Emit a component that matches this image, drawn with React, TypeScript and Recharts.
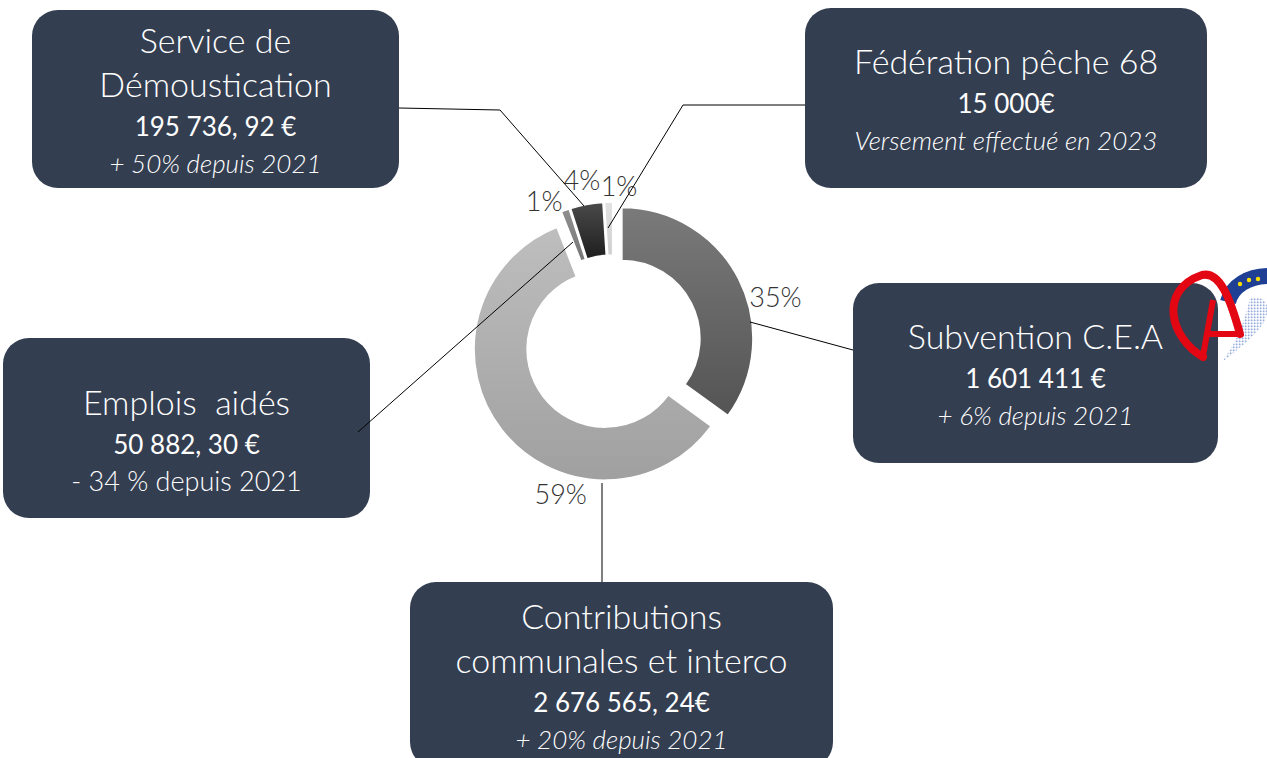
import { PieChart, Pie, Cell, Sector } from 'recharts';

// slice order: clockwise from 12 o'clock
const categories = [
  'Subvention C.E.A',
  'Contributions communales et interco',
  'Emplois aidés',
  'Service de Démoustication',
  'Fédération pêche 68',
];
const shares = [35, 59, 1, 4, 1];
const percentLabels = ['35%', '59%', '1%', '4%', '1%'];

const boxTitles = [
  ['Subvention C.E.A'],
  ['Contributions', 'communales et interco'],
  ['Emplois  aidés'],
  ['Service de', 'Démoustication'],
  ['Fédération pêche 68'],
];
const boxAmounts = ['1 601 411 €', '2 676 565, 24€', '50 882, 30 €', '195 736, 92 €', '15 000€'];
const boxNotes = [
  '+ 6% depuis 2021',
  '+ 20% depuis 2021',
  '- 34 % depuis 2021',
  '+ 50% depuis 2021',
  'Versement effectué en 2023',
];

const data = categories.map((name, i) => ({ name, value: shares[i], label: percentLabels[i] }));

const W = 1267;
const H = 758;
const CX = 613;
const CY = 343;
const RAD = Math.PI / 180;
const EXPLODE = 10;
const FONT = 'Lato, "Open Sans", sans-serif';

const gradients = [
  ['#7a7a7a', '#545454'],
  ['#bebebe', '#a0a0a0'],
  ['#8e8e8e', '#777777'],
  ['#4a4a4a', '#1e1e1e'],
  ['#e2e2e2', '#cfcfcf'],
];

// label placement: shift from mid angle (deg, clockwise) and distance from centre
const labelShift = [11, -33, -6, 0, 4];
const labelRadius = [169, 159, 158, 166, 158];

// box layout
const boxes = [
  { left: 853, top: 283, width: 365, height: 180, pad: 0, italic: true },
  { left: 410, top: 582, width: 423, height: 186, pad: 0, italic: true },
  { left: 3, top: 338, width: 367, height: 180, pad: 22, italic: false },
  { left: 32, top: 10, width: 367, height: 178, pad: 0, italic: true },
  { left: 805, top: 8, width: 402, height: 180, pad: 0, italic: true },
];

const leaders = [
  '750,322 853,350',
  '602,483 602,582',
  '358,432 573,242',
  '399,108 500,110 584,206',
  '805,105 683,105 608,228',
];

function ExplodedSector(props: any) {
  const { cx, cy, midAngle } = props;
  const dx = EXPLODE * Math.cos(-midAngle * RAD);
  const dy = EXPLODE * Math.sin(-midAngle * RAD);
  return <Sector {...props} cx={cx + dx} cy={cy + dy} />;
}

function renderLabel(props: any) {
  const { cx, cy, midAngle, index } = props;
  const a = (90 - midAngle + labelShift[index]) * RAD;
  const r = labelRadius[index];
  return (
    <text
      x={cx + r * Math.sin(a)}
      y={cy - r * Math.cos(a)}
      textAnchor="middle"
      dominantBaseline="central"
      fill="#333333"
      fontSize={27}
      fontFamily={FONT}
      fontWeight={300}
    >
      {data[index].label}
    </text>
  );
}

function InfoBox({ i }: { i: number }) {
  const b = boxes[i];
  return (
    <div
      style={{
        position: 'absolute',
        left: b.left,
        top: b.top,
        width: b.width,
        height: b.height,
        boxSizing: 'border-box',
        paddingTop: b.pad,
        background: '#343e51',
        borderRadius: 26,
        color: '#fff',
        fontFamily: FONT,
        display: 'flex',
        flexDirection: 'column',
        alignItems: 'center',
        justifyContent: 'center',
        textAlign: 'center',
        whiteSpace: 'pre',
      }}
    >
      {boxTitles[i].map((t) => (
        <div key={t} style={{ fontSize: 34, fontWeight: 300, lineHeight: '44px' }}>
          {t}
        </div>
      ))}
      <div style={{ fontSize: 26, fontWeight: 400, lineHeight: '40px' }}>{boxAmounts[i]}</div>
      <div
        style={{
          fontSize: b.italic ? 26 : 27,
          fontWeight: 300,
          fontStyle: b.italic ? 'italic' : 'normal',
          lineHeight: '34px',
        }}
      >
        {boxNotes[i]}
      </div>
    </div>
  );
}

function Logo() {
  const stars = [
    [80, 16],
    [89, 12],
    [98, 11],
  ];
  return (
    <svg style={{ position: 'absolute', left: 1160, top: 268, overflow: 'visible' }} width={107} height={100}>
      <defs>
        <linearGradient id="dots" x1="1" y1="0" x2="0" y2="1">
          <stop offset="0%" stopColor="#2f55b0" stopOpacity={0.95} />
          <stop offset="100%" stopColor="#8fa9de" stopOpacity={0.3} />
        </linearGradient>
        <pattern id="dotpat" width="3" height="3" patternUnits="userSpaceOnUse">
          <circle cx="1.5" cy="1.5" r="1" fill="url(#dots)" />
        </pattern>
      </defs>
      <path d="M 68 34 C 72 18, 88 8, 110 8" stroke="#1f3f95" strokeWidth={16} fill="none" />
      {stars.map(([x, y]) => (
        <circle key={x} cx={x} cy={y} r={2.2} fill="#ffe000" />
      ))}
      <path d="M 90 30 C 110 26, 112 45, 100 60 C 90 72, 75 84, 62 94 C 72 80, 82 64, 90 30 Z" fill="url(#dotpat)" />
      <path
        d="M 43 89 C 10 70, -2 22, 42 7 C 60 3, 70 30, 80 66"
        stroke="#e30613"
        strokeWidth={8}
        fill="none"
        strokeLinecap="round"
      />
      <path d="M 43 88 L 53 32" stroke="#e30613" strokeWidth={6} fill="none" />
      <path d="M 46 66 L 80 66" stroke="#e30613" strokeWidth={6} fill="none" />
    </svg>
  );
}

export default function App() {
  return (
    <div style={{ position: 'absolute', left: 0, top: 0, width: W, height: H, background: '#fff', overflow: 'hidden' }}>
      {boxes.map((_, i) => (
        <InfoBox key={i} i={i} />
      ))}
      <Logo />
      <div style={{ position: 'absolute', left: 0, top: 0 }}>
        <PieChart width={W} height={H} margin={{ top: 0, right: 0, bottom: 0, left: 0 }}>
          <defs>
            {gradients.map((g, i) => (
              <linearGradient key={i} id={`grad${i}`} x1="0" y1="0" x2="0" y2="1">
                <stop offset="0%" stopColor={g[0]} />
                <stop offset="100%" stopColor={g[1]} />
              </linearGradient>
            ))}
          </defs>
          <Pie
            data={data}
            dataKey="value"
            nameKey="name"
            cx={CX}
            cy={CY}
            innerRadius={78}
            outerRadius={131}
            startAngle={90}
            endAngle={-270}
            shape={ExplodedSector}
            label={renderLabel}
            labelLine={false}
            isAnimationActive={false}
          >
            {data.map((d, i) => (
              <Cell key={d.name} fill={`url(#grad${i})`} stroke="#fff" strokeWidth={1.5} />
            ))}
          </Pie>
        </PieChart>
      </div>
      <svg style={{ position: 'absolute', left: 0, top: 0, pointerEvents: 'none' }} width={W} height={H}>
        {leaders.map((p) => (
          <polyline key={p} points={p} fill="none" stroke="#000" strokeWidth={1} />
        ))}
      </svg>
    </div>
  );
}
